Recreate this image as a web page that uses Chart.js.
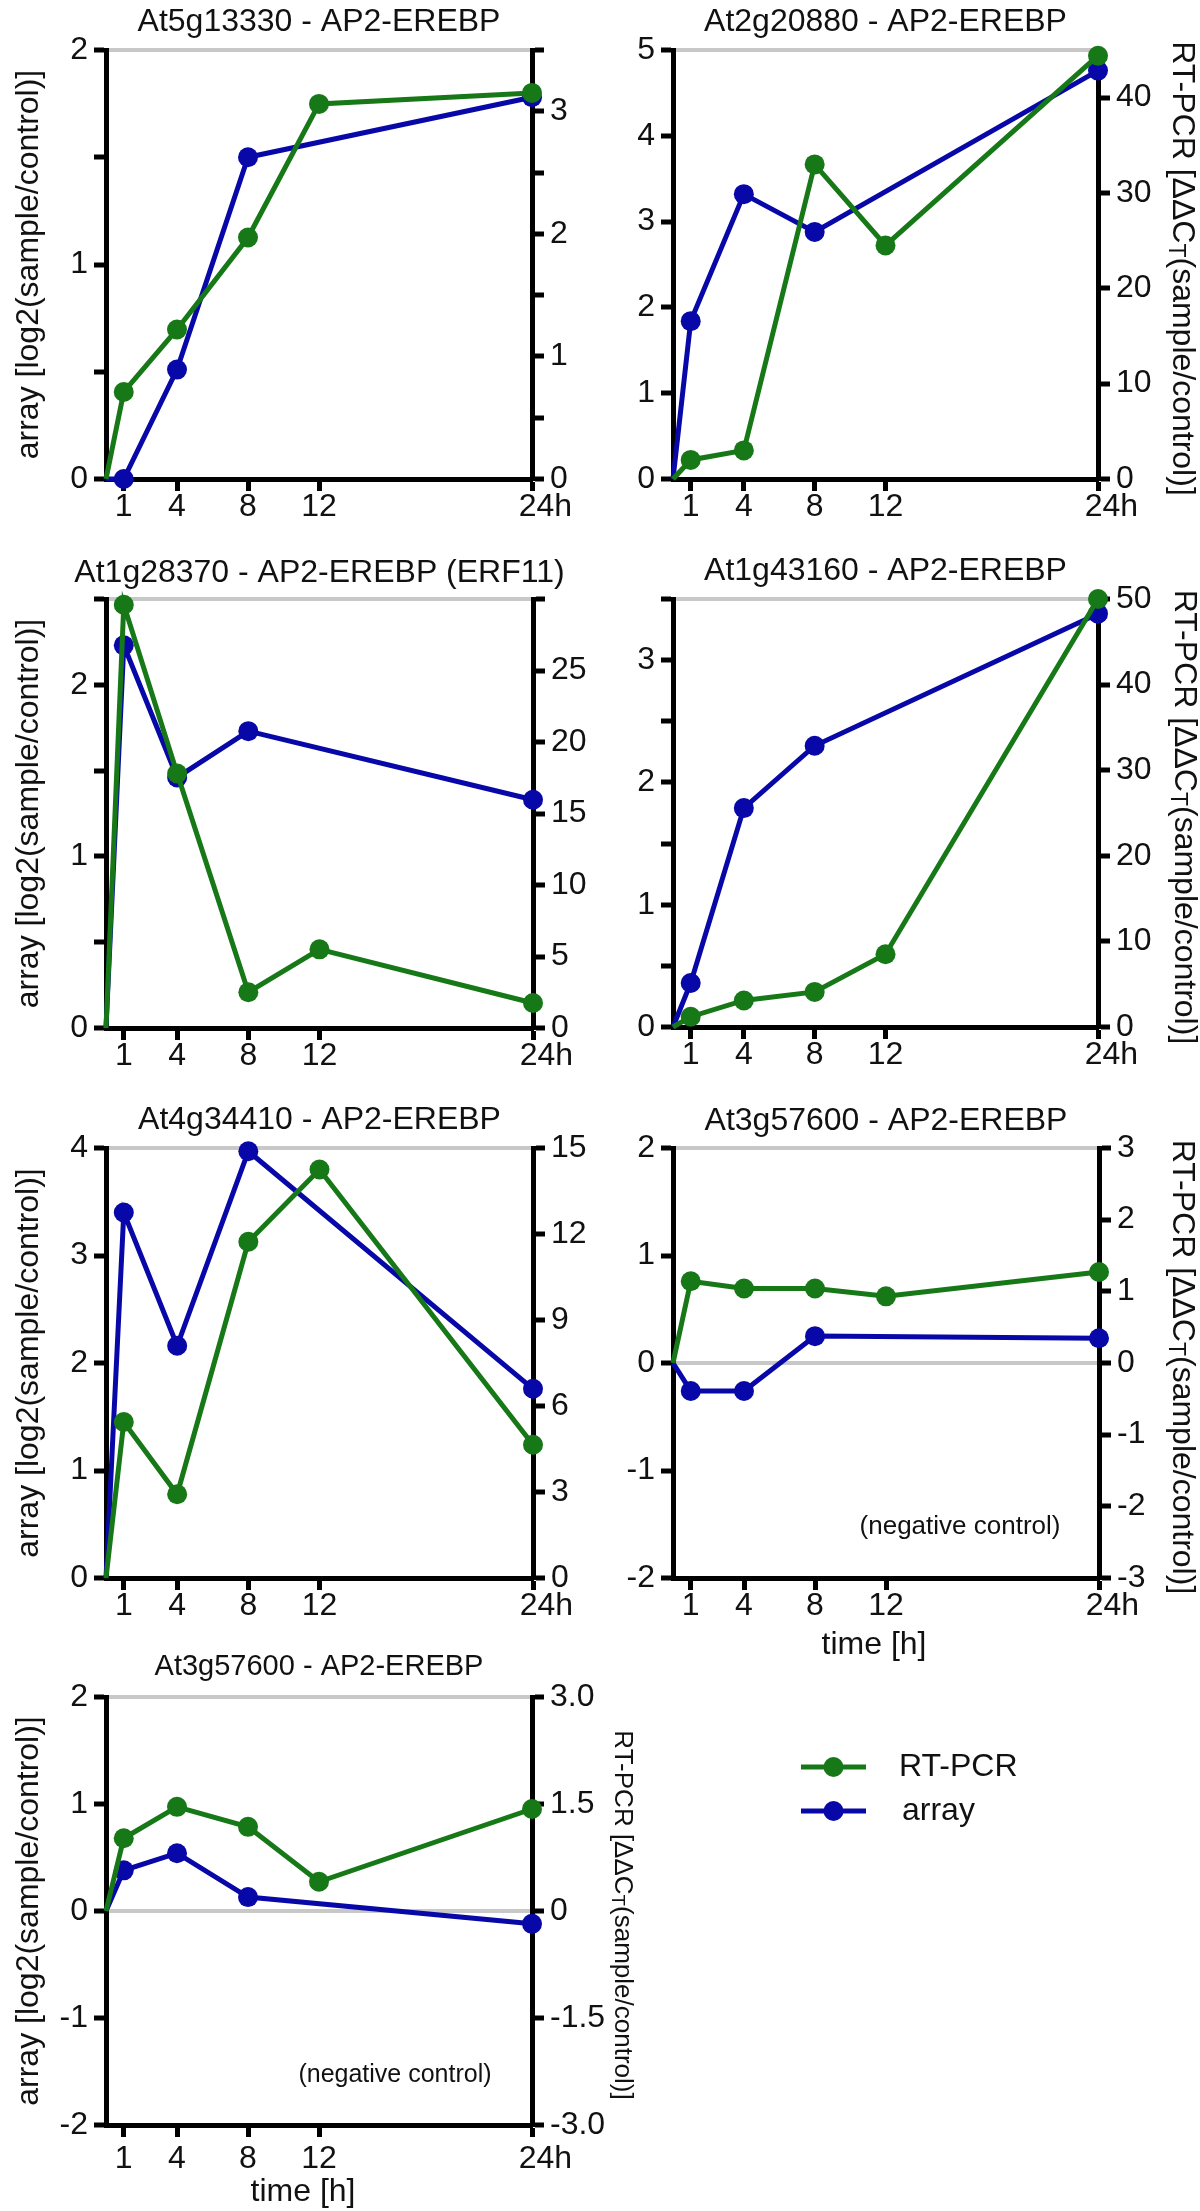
<!DOCTYPE html>
<html>
<head>
<meta charset="utf-8">
<script src="https://cdn.jsdelivr.net/npm/chart.js@4.4.1/dist/chart.umd.min.js"></script>
<style>
  html, body { margin: 0; padding: 0; background: #fff; }
  body { position: relative; width: 1200px; height: 2211px; overflow: hidden; }
  canvas { position: absolute; }
</style>
</head>
<body>
<canvas id="p1"></canvas>
<canvas id="p2"></canvas>
<canvas id="p3"></canvas>
<canvas id="p4"></canvas>
<canvas id="p5"></canvas>
<canvas id="p6"></canvas>
<canvas id="p7"></canvas>
<script>
const FONT = '"Liberation Sans", Arial, Helvetica, sans-serif';
const GREEN = '#177817';
const BLUE = '#0808a8';
const GRAY = '#c8c8c8';

// time points (h); the array series has no 12 h value
const pcrTimes = [0, 1, 4, 8, 12, 24];
const arrayTimes = [0, 1, 4, 8, 24];
const xTicks = [1, 4, 8, 12, 24];
const xLabels = ['1', '4', '8', '12', '   24h'];

// values
const p1Array = [0, 0, 0.51, 1.50, 1.78];
const p1Pcr = [0, 0.71, 1.22, 1.97, 3.06, 3.15];
const p2Array = [0, 1.84, 3.32, 2.88, 4.76];
const p2Pcr = [0, 2.0, 3.0, 33.0, 24.5, 44.4];
const p3Array = [0, 2.23, 1.46, 1.73, 1.33];
const p3Pcr = [0, 29.6, 17.8, 2.5, 5.5, 1.75];
const p4Array = [0, 0.36, 1.79, 2.30, 3.38];
const p4Pcr = [0, 1.2, 3.1, 4.1, 8.5, 50];
const p5Array = [0, 3.40, 2.16, 3.97, 1.76];
const p5Pcr = [0, 5.44, 2.92, 11.73, 14.25, 4.65];
const p6Array = [0, -0.26, -0.26, 0.25, 0.23];
const p6Pcr = [0, 1.14, 1.04, 1.04, 0.93, 1.27];
const p7Array = [0, 0.38, 0.54, 0.13, -0.12];
const p7Pcr = [0, 1.02, 1.46, 1.18, 0.41, 1.43];

// axis ticks and labels
const halfTicks2 = [0, 0.5, 1, 1.5, 2];
const halfLabels2 = ['0', '', '1', '', '2'];
const halfTicks25 = [0, 0.5, 1, 1.5, 2, 2.5];
const halfLabels25 = ['0', '', '1', '', '2', ''];
const halfTicks35 = [0, 0.5, 1, 1.5, 2, 2.5, 3, 3.5];
const halfLabels35 = ['0', '', '1', '', '2', '', '3', ''];
const p2LeftTicks = [0, 1, 2, 3, 4, 5];
const p2RightTicks = [0, 10, 20, 30, 40];
const p3RightTicks = [0, 5, 10, 15, 20, 25, 30];
const p3RightLabels = ['0', '5', '10', '15', '20', '25', ''];
const p4RightTicks = [0, 10, 20, 30, 40, 50];
const p5LeftTicks = [0, 1, 2, 3, 4];
const p5RightTicks = [0, 3, 6, 9, 12, 15];
const negLeftTicks = [-2, -1, 0, 1, 2];
const p6RightTicks = [-3, -2, -1, 0, 1, 2, 3];
const p7RightTicks = [-3, -1.5, 0, 1.5, 3];
const p7RightLabels = ['-3.0', '-1.5', '0', '1.5', '3.0'];

const str = a => a.map(String);

const panels = [
  { id: 'p1', box: [0, 0, 600, 540], area: [106, 50, 532, 479], title: 'At5g13330 - AP2-EREBP', titleY: 22,
    arr: p1Array, pcr: p1Pcr,
    left: { min: 0, max: 2, ticks: halfTicks2, labels: halfLabels2 },
    right: { min: 0, max: 3.5, ticks: halfTicks35, labels: halfLabels35 },
    leftTitle: true },
  { id: 'p2', box: [600, 0, 600, 540], area: [673, 50, 1098, 479], title: 'At2g20880 - AP2-EREBP', titleY: 22,
    arr: p2Array, pcr: p2Pcr,
    left: { min: 0, max: 5, ticks: p2LeftTicks, labels: str(p2LeftTicks) },
    right: { min: 0, max: 45, ticks: p2RightTicks, labels: str(p2RightTicks) },
    rightTitleX: 582 },
  { id: 'p3', box: [0, 540, 600, 550], area: [106, 599, 533, 1028], title: 'At1g28370 - AP2-EREBP (ERF11)', titleY: 33,
    arr: p3Array, pcr: p3Pcr,
    left: { min: 0, max: 2.5, ticks: halfTicks25, labels: halfLabels25 },
    right: { min: 0, max: 30, ticks: p3RightTicks, labels: p3RightLabels },
    leftTitle: true },
  { id: 'p4', box: [600, 540, 600, 550], area: [673, 599, 1098, 1027], title: 'At1g43160 - AP2-EREBP', titleY: 31,
    arr: p4Array, pcr: p4Pcr,
    left: { min: 0, max: 3.5, ticks: halfTicks35, labels: halfLabels35 },
    right: { min: 0, max: 50, ticks: p4RightTicks, labels: str(p4RightTicks) },
    rightTitleX: 584 },
  { id: 'p5', box: [0, 1090, 600, 550], area: [106, 1148, 533, 1578], title: 'At4g34410 - AP2-EREBP', titleY: 30,
    arr: p5Array, pcr: p5Pcr,
    left: { min: 0, max: 4, ticks: p5LeftTicks, labels: str(p5LeftTicks) },
    right: { min: 0, max: 15, ticks: p5RightTicks, labels: str(p5RightTicks) },
    leftTitle: true },
  { id: 'p6', box: [600, 1090, 600, 580], area: [673, 1148, 1099, 1578], title: 'At3g57600 - AP2-EREBP', titleY: 31,
    arr: p6Array, pcr: p6Pcr,
    left: { min: -2, max: 2, ticks: negLeftTicks, labels: str(negLeftTicks) },
    right: { min: -3, max: 3, ticks: p6RightTicks, labels: str(p6RightTicks) },
    rightTitleX: 582,
    notes: [{ text: '(negative control)', x: 360, y: 437, size: 26 }, { text: 'time [h]', x: 274, y: 555, size: 32 }] },
  { id: 'p7', box: [0, 1640, 1200, 571], area: [106, 1697, 532, 2125], title: 'At3g57600 - AP2-EREBP', titleY: 27,
    titleSize: 29, xPad: 6,
    arr: p7Array, pcr: p7Pcr,
    left: { min: -2, max: 2, ticks: negLeftTicks, labels: str(negLeftTicks) },
    right: { min: -3, max: 3, ticks: p7RightTicks, labels: p7RightLabels },
    leftTitle: true, rightTitleX: 622, rightTitleSize: 26,
    notes: [{ text: '(negative control)', x: 395, y: 435, size: 25 }, { text: 'time [h]', x: 303, y: 552, size: 32 }],
    legend: { x1: 801, x2: 866, textX: 899, ys: [127, 171] } }
];

// draws titles, rotated right-axis label with subscript, notes and the legend
const panelText = {
  id: 'panelText',
  afterDraw(chart, args, o) {
    const ctx = chart.ctx;
    const a = chart.chartArea;
    ctx.save();
    ctx.fillStyle = '#111';
    ctx.textBaseline = 'middle';

    if (o.title) {
      ctx.font = o.titleSize + 'px ' + FONT;
      ctx.textAlign = 'center';
      ctx.fillText(o.title, (a.left + a.right) / 2, o.titleY);
    }

    (o.notes || []).forEach(n => {
      ctx.font = n.size + 'px ' + FONT;
      ctx.textAlign = 'center';
      ctx.fillText(n.text, n.x, n.y);
    });

    if (o.rightTitleX) {
      const size = o.rightTitleSize;
      const parts = [
        { t: 'RT-PCR [ΔΔC', s: size, dy: 0 },
        { t: 'T', s: size * 0.72, dy: size * 0.2 },
        { t: '(sample/control)]', s: size, dy: 0 }
      ];
      let total = 0;
      parts.forEach(p => { ctx.font = p.s + 'px ' + FONT; p.w = ctx.measureText(p.t).width; total += p.w; });
      ctx.translate(o.rightTitleX, (a.top + a.bottom) / 2 + 4);
      ctx.rotate(Math.PI / 2);
      ctx.textAlign = 'left';
      let x = -total / 2;
      parts.forEach(p => {
        ctx.font = p.s + 'px ' + FONT;
        ctx.fillText(p.t, x, p.dy);
        x += p.w;
      });
      ctx.setTransform(1, 0, 0, 1, 0, 0);
    }

    if (o.legend) {
      const lg = o.legend;
      chart.data.datasets.forEach((ds, i) => {
        const y = lg.ys[i];
        ctx.strokeStyle = ds.borderColor;
        ctx.fillStyle = ds.borderColor;
        ctx.lineWidth = 5;
        ctx.beginPath();
        ctx.moveTo(lg.x1, y);
        ctx.lineTo(lg.x2, y);
        ctx.stroke();
        ctx.beginPath();
        ctx.arc((lg.x1 + lg.x2) / 2, y, 10, 0, Math.PI * 2);
        ctx.fill();
        ctx.fillStyle = '#111';
        ctx.font = '32px ' + FONT;
        ctx.textAlign = 'left';
        ctx.fillText(ds.label, lg.textX + (i === 1 ? 3 : 0), y);
      });
    }
    ctx.restore();
  }
};

function yAxis(ax, pos, width, titleOn) {
  return {
    type: 'linear',
    position: pos,
    min: ax.min,
    max: ax.max,
    afterBuildTicks: s => { s.ticks = ax.ticks.map(v => ({ value: v })); },
    afterFit: s => { s.width = width; },
    ticks: {
      callback: (v, i) => ax.labels[i],
      font: { family: FONT, size: 32, lineHeight: 1 },
      color: '#111',
      padding: 6,
      autoSkip: false
    },
    border: { color: '#000', width: 5 },
    grid: {
      drawOnChartArea: pos === 'left',
      drawTicks: true,
      tickLength: 12,
      tickWidth: 5,
      tickColor: '#000',
      lineWidth: 4,
      color: c => (c.tick && (c.tick.value === ax.max || (c.tick.value === 0 && ax.min < 0))) ? GRAY : 'rgba(0,0,0,0)'
    },
    title: {
      display: !!titleOn,
      text: 'array [log2(sample/control)]',
      font: { family: FONT, size: 32, lineHeight: 1 },
      color: '#111',
      padding: { top: 13, bottom: 0 }
    }
  };
}

function makeChart(p) {
  const [bx, by, bw, bh] = p.box;
  const [L, T, R, B] = p.area;
  const cv = document.getElementById(p.id);
  cv.width = bw;
  cv.height = bh;
  cv.style.left = bx + 'px';
  cv.style.top = by + 'px';

  const pointR = ctx => (ctx.dataIndex === 0 ? 0 : 10);

  new Chart(cv.getContext('2d'), {
    type: 'line',
    data: {
      datasets: [
        {
          label: 'RT-PCR',
          data: pcrTimes.map((t, i) => ({ x: t, y: p.pcr[i] })),
          yAxisID: 'y1',
          borderColor: GREEN,
          backgroundColor: GREEN,
          borderWidth: 5,
          pointRadius: pointR,
          pointBorderWidth: 0,
          tension: 0,
          clip: false
        },
        {
          label: 'array',
          data: arrayTimes.map((t, i) => ({ x: t, y: p.arr[i] })),
          yAxisID: 'y',
          borderColor: BLUE,
          backgroundColor: BLUE,
          borderWidth: 5,
          pointRadius: pointR,
          pointBorderWidth: 0,
          tension: 0,
          clip: false
        }
      ]
    },
    options: {
      responsive: false,
      animation: false,
      devicePixelRatio: 1,
      events: [],
      layout: { padding: { left: 0, top: T - by, right: 0, bottom: 0 } },
      scales: {
        x: {
          type: 'linear',
          min: 0,
          max: 24,
          afterBuildTicks: s => { s.ticks = xTicks.map(v => ({ value: v })); },
          afterFit: s => { s.height = by + bh - B; },
          ticks: {
            callback: (v, i) => xLabels[i],
            font: { family: FONT, size: 32, lineHeight: 1 },
            color: '#111',
            padding: p.xPad || 0,
            maxRotation: 0,
            autoSkip: false
          },
          border: { color: '#000', width: 5 },
          grid: { drawOnChartArea: false, tickLength: 12, tickWidth: 5, tickColor: '#000' }
        },
        y: yAxis(p.left, 'left', L - bx, p.leftTitle),
        y1: yAxis(p.right, 'right', bx + bw - R, false)
      },
      plugins: {
        legend: { display: false },
        tooltip: { enabled: false },
        panelText: {
          title: p.title,
          titleY: p.titleY,
          titleSize: p.titleSize || 32,
          notes: p.notes || [],
          rightTitleX: p.rightTitleX || 0,
          rightTitleSize: p.rightTitleSize || 32,
          legend: p.legend || null
        }
      }
    },
    plugins: [panelText]
  });
}

panels.forEach(makeChart);
</script>
</body>
</html>
